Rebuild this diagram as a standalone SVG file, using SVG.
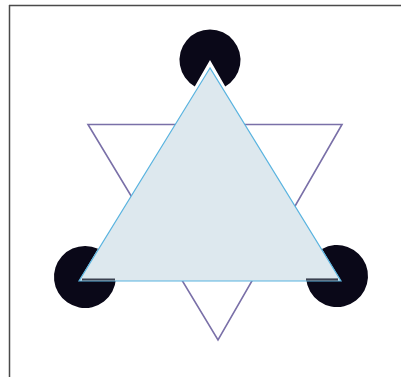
<svg xmlns="http://www.w3.org/2000/svg" width="401" height="377" viewBox="0 0 401 377">
<style>
.frame{stroke:#4a4a4a;stroke-width:1.5;fill:none}
.pac{fill:#0a0818}
.outline{fill:none;stroke:#7a70a8;stroke-width:1.6;stroke-linejoin:miter}
.main{fill:#dde8ee;stroke:#5ab4e0;stroke-width:1.2;stroke-linejoin:miter}
.shade{stroke:#3b4150;stroke-width:2.2}
</style>
<rect width="401" height="377" fill="#ffffff"/>
<g id="frame">
<line class="frame" x1="9" y1="5.5" x2="401" y2="5.5"/>
<line class="frame" x1="9.5" y1="5" x2="9.5" y2="377"/>
</g>
<g id="circle-top"><path class="pac" d="M210,60 L225.25,86.4 A30.5,30.5 0 1 0 194.75,86.4 Z"/></g>
<g id="circle-left"><path class="pac" d="M80,279 L115.9,279 A31,31 0 1 1 97.98,248.85 Z"/></g>
<g id="circle-right"><path class="pac" d="M340,279 L322,248.9 A31,31 0 1 1 306.15,279 Z"/></g>
<g id="outline-triangle">
<polygon class="outline" points="88,124.5 342,124.5 218,340"/>
</g>
<g id="main-triangle">
<polygon class="main" points="210,68 79,281 341,281"/>
</g>
<g id="connectors">
<line class="shade" x1="82" y1="279.5" x2="115" y2="279.5"/>
<line class="shade" x1="306" y1="279.5" x2="338" y2="279.5"/>
</g>
</svg>
